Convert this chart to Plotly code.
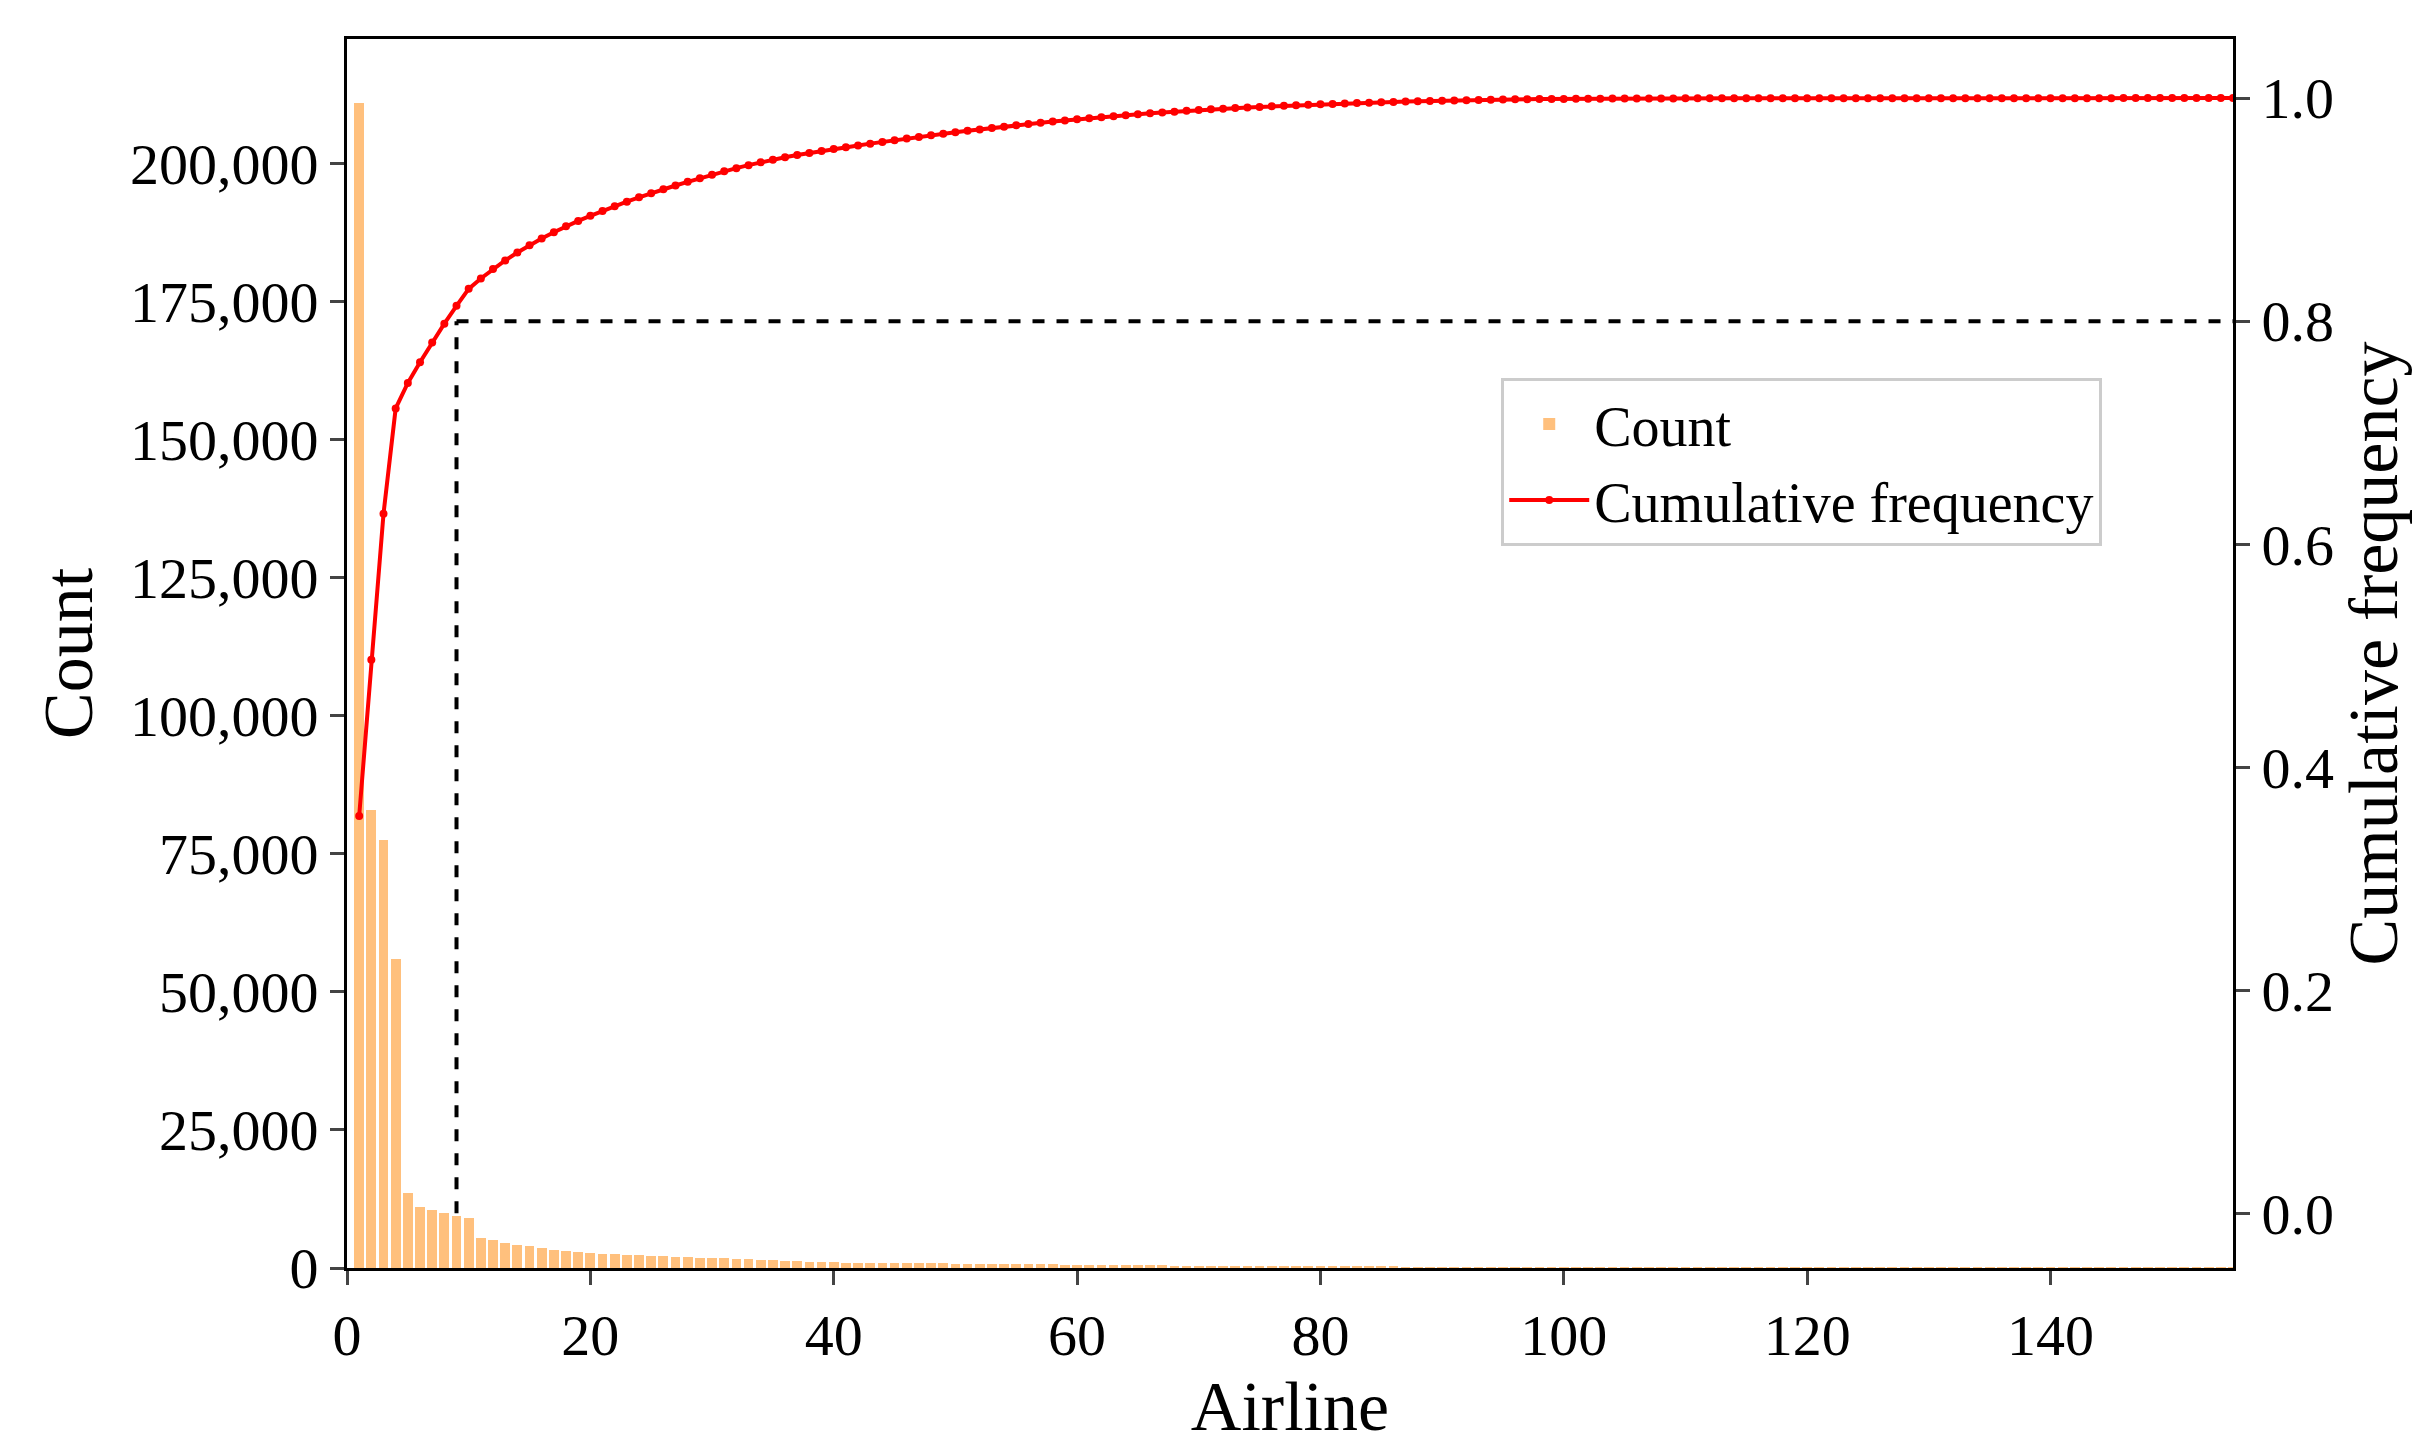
import numpy as np
import plotly.graph_objects as go

airline = list(range(1, 156))
counts = [
    211000, 83000, 77500, 56000, 13500, 11000, 10500, 10000, 9500, 9000,
    5500, 5000, 4600, 4200, 3900, 3600, 3300, 3100, 2900, 2700,
    2600, 2500, 2400, 2300, 2200, 2100, 2000, 1950, 1900, 1850,
    1800, 1700, 1600, 1500, 1400, 1300, 1200, 1100, 1050, 1000,
    980, 960, 940, 920, 900, 880, 860, 840, 820, 800,
    780, 760, 740, 720, 700, 680, 660, 640, 620, 600,
    580, 560, 540, 520, 500, 480, 460, 440, 420, 400,
    380, 360, 340, 320, 300, 290, 280, 270, 260, 250,
    240, 230, 220, 210, 200, 190, 180, 170, 160, 150,
    140, 130, 120, 110, 100, 90, 80, 70, 60, 50,
    45, 40, 36, 32, 28, 25, 22, 20, 18, 16,
    14, 12, 10, 9, 8, 7, 6, 5, 5, 4,
    4, 3, 3, 3, 2, 2, 2, 2, 2, 1,
    1, 1, 1, 1, 1, 1, 1, 1, 1, 1,
    1, 1, 1, 1, 1, 1, 1, 1, 1, 1,
    1, 1, 1, 1, 1,
]
cum_freq = np.cumsum(counts) / np.sum(counts)
cutoff_airline = 9
cutoff_freq = 0.8

font = "Liberation Serif"

fig = go.Figure()
fig.add_trace(go.Bar(x=airline, y=counts, name="Count", width=0.8,
                     marker=dict(color="rgb(255,192,125)", line_width=0)))
fig.add_trace(go.Scatter(x=airline, y=cum_freq, yaxis="y2", mode="lines+markers",
                         name="Cumulative frequency",
                         line=dict(color="rgb(255,0,0)", width=4),
                         marker=dict(color="rgb(255,0,0)", size=8)))

# dashed guide lines at the 80% cutoff
fig.add_shape(type="line", xref="x", yref="y2", x0=cutoff_airline, x1=155,
              y0=cutoff_freq, y1=cutoff_freq, line=dict(color="black", width=4, dash="dash"))
fig.add_shape(type="line", xref="x", yref="y2", x0=cutoff_airline, x1=cutoff_airline,
              y0=0, y1=cutoff_freq, line=dict(color="black", width=4, dash="dash"))

axis_common = dict(showgrid=False, zeroline=False, showline=True, linecolor="black",
                   linewidth=3, ticks="outside", ticklen=14, tickwidth=3,
                   tickfont=dict(family=font, size=58, color="black"))

fig.update_layout(
    width=2428, height=1446,
    paper_bgcolor="white", plot_bgcolor="white",
    margin=dict(l=339, r=203, t=31, b=186),
    font=dict(family=font, size=58, color="black"),
    bargap=0,
    xaxis=dict(title=dict(text="Airline", standoff=15), range=[0, 155],
               tickvals=[0, 20, 40, 60, 80, 100, 120, 140], mirror=True, **axis_common),
    yaxis=dict(title=dict(text="Count", standoff=15), range=[0, 222500],
               tickvals=[0, 25000, 50000, 75000, 100000, 125000, 150000, 175000, 200000],
               tickformat=",d", **axis_common),
    yaxis2=dict(title=dict(text="Cumulative frequency", standoff=15), overlaying="y",
                side="right", range=[-0.049, 1.053],
                tickvals=[0, 0.2, 0.4, 0.6, 0.8, 1.0], tickformat=".1f", **axis_common),
    legend=dict(x=0.612, y=0.724, xanchor="left", yanchor="top", itemwidth=80,
                bgcolor="white", bordercolor="rgb(204,204,204)", borderwidth=3,
                font=dict(family=font, size=56)),
)

fig.write_html("out.html")
